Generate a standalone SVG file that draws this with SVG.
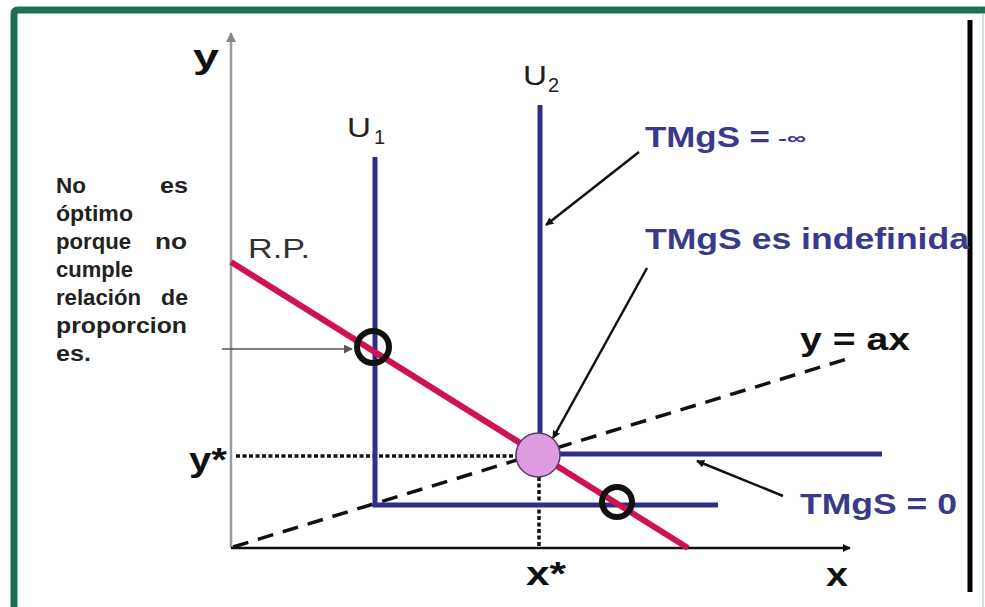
<svg xmlns="http://www.w3.org/2000/svg" width="985" height="607" viewBox="0 0 985 607">
<style>
.lbl{font-family:"Liberation Sans",Arial,sans-serif;}
.b{font-weight:bold;}
.navy{fill:#3a3a8c;}
.side{font-family:"Liberation Sans",Arial,sans-serif;font-weight:bold;font-size:22px;fill:#222;}
.ic{fill:none;stroke:#2e2e8a;stroke-width:5;}
.ptr{stroke:#111;stroke-width:2.5;fill:none;}
.dot{stroke:#111;stroke-width:3.5;stroke-dasharray:4 2.5;fill:none;}
</style>
<defs>
<marker id="ah" viewBox="0 0 10 10" refX="9" refY="5" markerWidth="8" markerHeight="8" markerUnits="userSpaceOnUse" orient="auto">
<path d="M0,0 L10,5 L0,10 Z" fill="#111"/>
</marker>
<marker id="ahg" viewBox="0 0 10 10" refX="9" refY="5" markerWidth="9" markerHeight="9" markerUnits="userSpaceOnUse" orient="auto">
<path d="M0,0 L10,5 L0,10 Z" fill="#555"/>
</marker>
<marker id="ahy" viewBox="0 0 10 10" refX="9" refY="5" markerWidth="10" markerHeight="10" markerUnits="userSpaceOnUse" orient="auto">
<path d="M0,0 L10,5 L0,10 Z" fill="#888"/>
</marker>
</defs>
<rect width="985" height="607" fill="#fff"/>
<path d="M14,607 V14 Q14,10 18,10 H985" fill="none" stroke="#1c6e57" stroke-width="7"/>
<line x1="983" y1="14" x2="983" y2="607" stroke="#cfe3dc" stroke-width="2"/>
<line x1="970" y1="20" x2="970" y2="592" stroke="#000" stroke-width="5"/>

<g id="axes">
<line x1="231" y1="548" x2="231" y2="33" stroke="#999" stroke-width="2.5" marker-end="url(#ahy)"/>
<line x1="231" y1="548" x2="850" y2="548" stroke="#111" stroke-width="2.5" marker-end="url(#ah)"/>
<text class="lbl b" x="193" y="68" font-size="34" fill="#111" textLength="26" lengthAdjust="spacingAndGlyphs">y</text>
<text class="lbl b" x="826" y="586" font-size="33" fill="#111" textLength="22" lengthAdjust="spacingAndGlyphs">x</text>
</g>

<g id="ray">
<line x1="233" y1="547" x2="850" y2="358" stroke="#111" stroke-width="3.5" stroke-dasharray="16 10"/>
<text class="lbl b" x="800" y="350" font-size="31" fill="#111" textLength="110" lengthAdjust="spacingAndGlyphs">y = ax</text>
</g>

<g id="guides">
<line class="dot" x1="236" y1="456" x2="517" y2="456"/>
<line class="dot" x1="539" y1="477" x2="539" y2="547"/>
<text class="lbl b" x="189" y="471" font-size="33" fill="#111" textLength="38" lengthAdjust="spacingAndGlyphs">y*</text>
<text class="lbl b" x="526" y="585" font-size="33" fill="#111" textLength="40" lengthAdjust="spacingAndGlyphs">x*</text>
</g>

<g id="U1">
<path class="ic" d="M375,157 V505 H718"/>
<text class="lbl" x="347" y="137" font-size="28" fill="#222" textLength="24" lengthAdjust="spacingAndGlyphs">U</text>
<text class="lbl" x="374" y="144" font-size="20" fill="#222">1</text>
</g>

<g id="U2">
<path class="ic" d="M540,105 V454 H882"/>
<text class="lbl" x="523" y="85" font-size="28" fill="#222" textLength="24" lengthAdjust="spacingAndGlyphs">U</text>
<text class="lbl" x="548" y="92" font-size="20" fill="#222">2</text>
</g>

<g id="RP">
<line x1="231" y1="262" x2="688" y2="548" stroke="#d0124e" stroke-width="6"/>
<text class="lbl" x="248" y="258" font-size="28" fill="#333" textLength="62" lengthAdjust="spacingAndGlyphs">R.P.</text>
</g>

<g id="marks">
<circle cx="373" cy="347" r="16" fill="none" stroke="#111" stroke-width="6"/>
<circle cx="617" cy="502" r="15" fill="none" stroke="#111" stroke-width="6"/>
<circle cx="538" cy="455" r="22" fill="#dd9ce0" stroke="#5a3a6a" stroke-width="1.5"/>
</g>

<g id="connectors">
<line x1="222" y1="349" x2="352" y2="349" stroke="#555" stroke-width="1.5" marker-end="url(#ahg)"/>
<line class="ptr" x1="639" y1="152" x2="546" y2="225" marker-end="url(#ah)"/>
<line class="ptr" x1="647" y1="268" x2="553" y2="438" marker-end="url(#ah)"/>
<line class="ptr" x1="783" y1="496" x2="697" y2="461" marker-end="url(#ah)"/>
</g>

<g id="labels">
<text class="lbl b navy" x="645" y="147" font-size="30" textLength="125" lengthAdjust="spacingAndGlyphs">TMgS =</text>
<text class="lbl b navy" x="778" y="144" font-size="17" textLength="28" lengthAdjust="spacingAndGlyphs">-∞</text>
<text class="lbl b navy" x="645" y="249" font-size="30" textLength="324" lengthAdjust="spacingAndGlyphs">TMgS es indefinida</text>
<text class="lbl b navy" x="800" y="514" font-size="30" textLength="157" lengthAdjust="spacingAndGlyphs">TMgS = 0</text>
</g>

<g id="note">
<text class="side" x="56" y="193" textLength="30" lengthAdjust="spacingAndGlyphs">No</text>
<text class="side" x="160" y="193" textLength="28" lengthAdjust="spacingAndGlyphs">es</text>
<text class="side" x="56" y="221" textLength="77" lengthAdjust="spacingAndGlyphs">óptimo</text>
<text class="side" x="56" y="249" textLength="75" lengthAdjust="spacingAndGlyphs">porque</text>
<text class="side" x="155" y="249" textLength="32" lengthAdjust="spacingAndGlyphs">no</text>
<text class="side" x="56" y="277" textLength="77" lengthAdjust="spacingAndGlyphs">cumple</text>
<text class="side" x="56" y="305" textLength="85" lengthAdjust="spacingAndGlyphs">relación</text>
<text class="side" x="161" y="305" textLength="27" lengthAdjust="spacingAndGlyphs">de</text>
<text class="side" x="56" y="333" textLength="131" lengthAdjust="spacingAndGlyphs">proporcion</text>
<text class="side" x="56" y="361" textLength="35" lengthAdjust="spacingAndGlyphs">es.</text>
</g>
</svg>
